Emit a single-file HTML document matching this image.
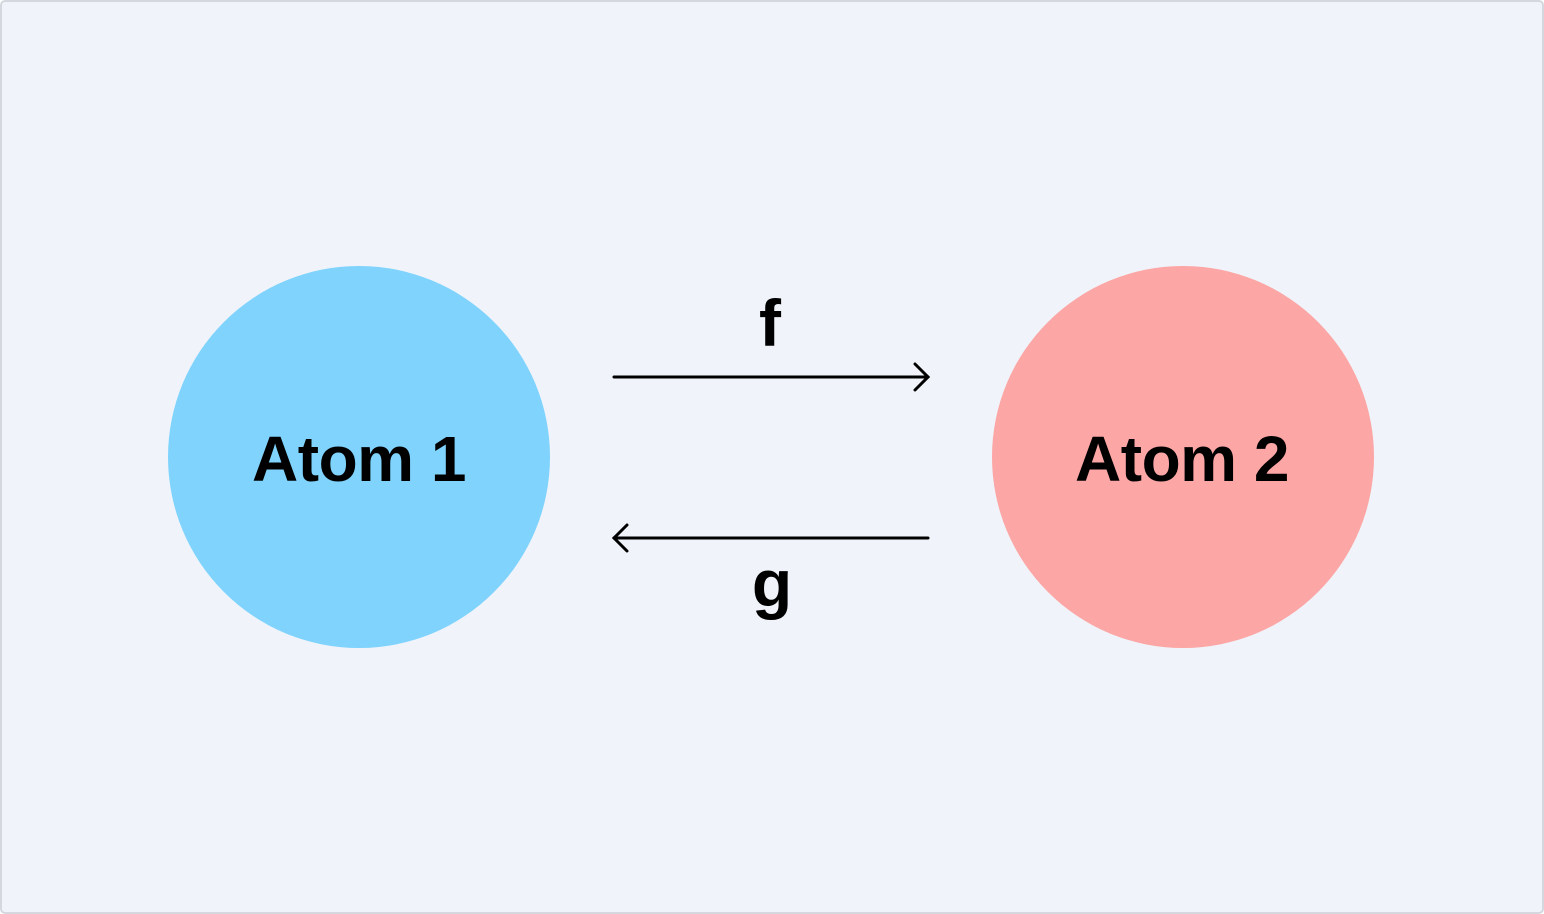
<!DOCTYPE html>
<html><head><meta charset="utf-8"><style>
html,body{margin:0;padding:0;background:#fff;}
svg{display:block;}
text{font-family:"Liberation Sans",sans-serif;font-weight:bold;fill:#000;}
</style></head><body>
<svg width="1544" height="914" viewBox="0 0 1544 914" xmlns="http://www.w3.org/2000/svg">
<rect x="1" y="1" width="1542" height="912" rx="4" fill="#f0f4fa" stroke="#d4d8de" stroke-width="2"/>
<circle cx="359" cy="457" r="191" fill="#7fd3fd"/>
<circle cx="1183" cy="457" r="191" fill="#fca6a5"/>
<text x="359" y="481" font-size="64" text-anchor="middle" letter-spacing="-0.5">Atom 1</text>
<text x="1182" y="481" font-size="64" text-anchor="middle" letter-spacing="-0.5">Atom 2</text>
<g stroke="#000" stroke-width="3" fill="none" stroke-linecap="round">
<line x1="614" y1="377" x2="928" y2="377"/>
<polyline points="915,364 928,377 915,390"/>
<line x1="928" y1="538" x2="614" y2="538"/>
<polyline points="627,525 614,538 627,551"/>
</g>
<text x="770" y="346" font-size="66" text-anchor="middle">f</text>
<text x="772" y="606" font-size="66" text-anchor="middle">g</text>
</svg>
</body></html>
